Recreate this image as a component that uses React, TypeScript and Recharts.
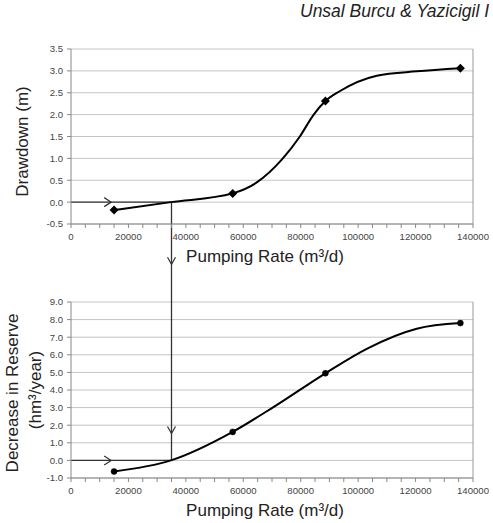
import { LineChart, Line, XAxis, YAxis, CartesianGrid, ReferenceLine, ReferenceDot } from "recharts"

// measured points (markers)
const rates = [15000, 56300, 88600, 135600]
const drawdown = [-0.18, 0.2, 2.31, 3.06]
const reserveDecrease = [-0.63, 1.62, 4.95, 7.8]

// smoothed curves as drawn in the figure
const drawdownCurveRates = [15000, 34800, 56300, 64700, 73400, 79700, 84400, 88600, 93700, 106500, 120400, 135600]
const drawdownCurveValues = [-0.18, 0.0, 0.2, 0.45, 0.97, 1.5, 1.99, 2.31, 2.54, 2.89, 2.99, 3.06]
const reserveCurveRates = [15000, 34800, 56300, 70500, 88600, 103000, 120400, 135600]
const reserveCurveValues = [-0.63, 0.0, 1.62, 3.03, 4.95, 6.34, 7.48, 7.8]

const rateTicks = [
    0, 5000, 10000, 15000, 20000, 25000, 30000, 35000, 40000, 45000, 50000, 55000, 60000, 65000, 70000,
    75000, 80000, 85000, 90000, 95000, 100000, 105000, 110000, 115000, 120000, 125000, 130000, 135000, 140000,
]
const drawdownTicks = [-0.5, 0, 0.5, 1, 1.5, 2, 2.5, 3, 3.5]
const reserveTicks = [-1, 0, 1, 2, 3, 4, 5, 6, 7, 8, 9]

// where the arrows cross the curves
const crossRate = 35000
const arrowRate = 14000

const topPoints = rates.map((rate, i) => ({ rate, value: drawdown[i] }))
const bottomPoints = rates.map((rate, i) => ({ rate, value: reserveDecrease[i] }))
const topCurve = drawdownCurveRates.map((rate, i) => ({ rate, value: drawdownCurveValues[i] }))
const bottomCurve = reserveCurveRates.map((rate, i) => ({ rate, value: reserveCurveValues[i] }))

const font = '"Liberation Sans", Arial, sans-serif'
const tickStyle = { fontSize: 9.6, fill: "#444", fontFamily: font }
const axisColor = "#888888"
const arrowColor = "#333333"

const Diamond = (props: any) => {
    const { cx, cy } = props
    return <path d={`M${cx},${cy - 4.5}L${cx + 4.5},${cy}L${cx},${cy + 4.5}L${cx - 4.5},${cy}Z`} fill="#000" />
}

const ArrowRight = (props: any) => {
    const { cx, cy } = props
    return <path d={`M${cx - 7},${cy - 4.5}L${cx},${cy}L${cx - 7},${cy + 4.5}`} fill="none" stroke={arrowColor} strokeWidth={1.2} />
}

const ArrowDown = (props: any) => {
    const { cx, cy } = props
    return <path d={`M${cx - 4},${cy - 7}L${cx},${cy}L${cx + 4},${cy - 7}`} fill="none" stroke={arrowColor} strokeWidth={1.2} />
}

const rotated = (x: number, y: number, text: string) => (
    <text
        x={x}
        y={y}
        transform={`rotate(-90 ${x} ${y})`}
        textAnchor="middle"
        dominantBaseline="central"
        fontSize={17}
        fontFamily={font}
        fill="#222"
    >
        {text}
    </text>
)

const xAxisLabel = ({ viewBox }: any) => (
    <text
        x={viewBox.x + viewBox.width / 2 - 7}
        y={viewBox.y + 38}
        textAnchor="middle"
        fontSize={17}
        fontFamily={font}
        fill="#222"
    >
        Pumping Rate (m³/d)
    </text>
)

const drawdownLabel = ({ viewBox }: any) => rotated(viewBox.x + 22.5, viewBox.y + viewBox.height / 2 + 5, "Drawdown (m)")

const reserveLabel = ({ viewBox }: any) => (
    <g>
        {rotated(viewBox.x + 12, viewBox.y + viewBox.height / 2 + 3, "Decrease in Reserve")}
        {rotated(viewBox.x + 35.5, viewBox.y + viewBox.height / 2, "(hm³/year)")}
    </g>
)

const rateFormatter = (v: number) => (v % 20000 === 0 ? String(v) : "")

export default function App() {
    return (
        <div style={{ position: "absolute", left: 0, top: 0, width: 493, height: 523, overflow: "hidden", background: "#fff" }}>
            <div
                style={{
                    position: "absolute",
                    left: 300,
                    top: 1,
                    fontSize: 17.5,
                    fontStyle: "italic",
                    fontFamily: font,
                    whiteSpace: "nowrap",
                    color: "#222",
                }}
            >
                Unsal Burcu &amp; Yazicigil I
            </div>

            <div style={{ position: "absolute", left: 0, top: 0 }}>
                <LineChart width={493} height={270} margin={{ top: 49, right: 20, bottom: 0, left: 0 }}>
                    <CartesianGrid vertical={false} stroke="#c4c4c4" />
                    <XAxis
                        type="number"
                        dataKey="rate"
                        domain={[0, 140000]}
                        ticks={rateTicks}
                        interval={0}
                        tickFormatter={rateFormatter}
                        tick={tickStyle}
                        tickSize={4}
                        tickMargin={5}
                        stroke={axisColor}
                        height={46}
                        label={xAxisLabel}
                    />
                    <YAxis
                        type="number"
                        domain={[-0.5, 3.5]}
                        ticks={drawdownTicks}
                        interval={0}
                        tickFormatter={(v: number) => v.toFixed(1)}
                        tick={tickStyle}
                        tickSize={4}
                        tickMargin={4}
                        stroke={axisColor}
                        width={71}
                        label={drawdownLabel}
                    />
                    <ReferenceLine x={140000} stroke="#999" />
                    <ReferenceLine
                        segment={[{ x: 0, y: 0 }, { x: crossRate, y: 0 }]}
                        stroke={arrowColor}
                        strokeWidth={1.3}
                    />
                    <ReferenceLine
                        segment={[{ x: crossRate, y: 0 }, { x: crossRate, y: -2 }]}
                        stroke={arrowColor}
                        strokeWidth={1.3}
                        ifOverflow="visible"
                    />
                    <ReferenceDot x={arrowRate} y={0} shape={ArrowRight} />
                    <ReferenceDot x={crossRate} y={-1.42} shape={ArrowDown} ifOverflow="visible" />
                    <Line
                        data={topCurve}
                        type="monotone"
                        dataKey="value"
                        stroke="#000"
                        strokeWidth={2}
                        dot={false}
                        activeDot={false}
                        isAnimationActive={false}
                    />
                    <Line
                        data={topPoints}
                        dataKey="value"
                        stroke="none"
                        dot={Diamond}
                        activeDot={false}
                        isAnimationActive={false}
                    />
                </LineChart>
            </div>

            <div style={{ position: "absolute", left: 0, top: 270 }}>
                <LineChart width={493} height={253} margin={{ top: 32, right: 20, bottom: 0, left: 0 }}>
                    <CartesianGrid vertical={false} stroke="#c4c4c4" />
                    <XAxis
                        type="number"
                        dataKey="rate"
                        domain={[0, 140000]}
                        ticks={rateTicks}
                        interval={0}
                        tickFormatter={rateFormatter}
                        tick={tickStyle}
                        tickSize={4}
                        tickMargin={5}
                        stroke={axisColor}
                        height={45}
                        label={xAxisLabel}
                    />
                    <YAxis
                        type="number"
                        domain={[-1, 9]}
                        ticks={reserveTicks}
                        interval={0}
                        tickFormatter={(v: number) => v.toFixed(1)}
                        tick={tickStyle}
                        tickSize={4}
                        tickMargin={4}
                        stroke={axisColor}
                        width={71}
                        label={reserveLabel}
                    />
                    <ReferenceLine x={140000} stroke="#999" />
                    <ReferenceLine
                        segment={[{ x: 0, y: 0 }, { x: crossRate, y: 0 }]}
                        stroke={arrowColor}
                        strokeWidth={1.3}
                    />
                    <ReferenceLine
                        segment={[{ x: crossRate, y: 0 }, { x: crossRate, y: 12 }]}
                        stroke={arrowColor}
                        strokeWidth={1.3}
                        ifOverflow="visible"
                    />
                    <ReferenceDot x={arrowRate} y={0} shape={ArrowRight} />
                    <ReferenceDot x={crossRate} y={1.53} shape={ArrowDown} />
                    <Line
                        data={bottomCurve}
                        type="monotone"
                        dataKey="value"
                        stroke="#000"
                        strokeWidth={2}
                        dot={false}
                        activeDot={false}
                        isAnimationActive={false}
                    />
                    <Line
                        data={bottomPoints}
                        dataKey="value"
                        stroke="none"
                        dot={{ r: 3, fill: "#000", stroke: "#000", strokeWidth: 0.5 }}
                        activeDot={false}
                        isAnimationActive={false}
                    />
                </LineChart>
            </div>
        </div>
    )
}
